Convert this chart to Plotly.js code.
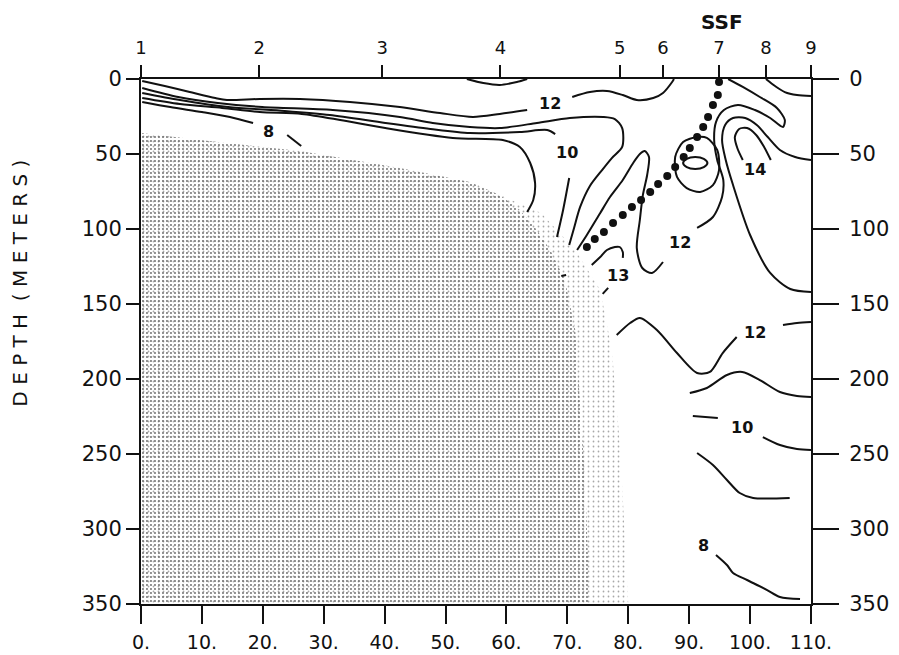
<!DOCTYPE html>
<html>
<head>
<meta charset="utf-8">
<script src="https://cdn.plot.ly/plotly-3.0.1.min.js"></script>
<style>html,body{margin:0;padding:0;background:#fff;}#chart{width:899px;height:655px;}</style>
</head>
<body>
<div id="chart"></div>
<script>
// ---- axes ----
const bottomTickVals = [0,10,20,30,40,50,60,70,80,90,100,110];
const bottomTickText = ["0.","10.","20.","30.","40.","50.","60.","70.","80.","90.","100.","110."];
const stationX = [0,19.4,39.6,59.0,78.6,85.7,94.9,102.6,110];
const stationLabels = ["1","2","3","4","5","6","7","8","9"];
const depthTicks = [0,50,100,150,200,250,300,350];

// ---- stippled bottom region ----
const shoalDenseX = [0,9.7,26.1,42.5,54.0,58.9,62.2,65.0,67.2,69.6,71.3,72.1,72.9,73.7,0];
const shoalDenseY = [36,40.7,48,59.3,68.7,77.3,87.3,100.7,114,134,167.3,214,267.3,350,350];
const shoalFadeX = [0,9.7,26.1,42.5,54.0,58.9,65.7,71.3,75.4,77.3,78.7,80.0,0];
const shoalFadeY = [36,40.7,48,59.3,68.7,77.3,89.3,114,140.7,180.7,247.3,350,350];

// ---- isotherms ----
const iso1aX = [0.2,3.9,8.0,12.2,14.1,19.5,26.1,34.3,42.5,49.1,54.5,58.9,63.4];
const iso1aY = [1.3,4.7,8.7,12.7,14,13.3,13.3,15.3,18.7,22.7,25.3,23.3,20.7];
const iso1bX = [70.8,73.7,76.5,79.1,81.4,84.1,85.7,87.2,87.5];
const iso1bY = [12,8.7,8,10.7,14,12.7,9.3,2,0];
const iso2X = [0.2,6.1,12.6,19.9,31.5,42.5,47.9,54.0,58.9,65.0,70.4,75.9,77.8,79.0,79.0,77.3,75.7,73.7,72.1,71.1,70.3];
const iso2Y = [6,12,16,18.7,20.7,25.3,29.3,32,32.7,29.3,26,25.3,26.7,32.7,45.3,52.7,60.7,71.3,85.3,99.3,110.7];
const iso3X = [0.2,6.4,14.3,23.6,31.0,40.1,47.5,54.0,62.2,66.7,68.0];
const iso3Y = [9.3,14,18.7,21.3,24,29.3,33.3,36,35.3,34,36.7];
const iso4X = [0.2,6.4,13.3,19.5,26.4,32.7,40.1,51.2,59.4,62.2,63.9,64.7,64.4,63.4];
const iso4Y = [12.7,16.7,19.3,22,23.3,27.3,32.7,39.3,40.7,45.3,56,69.3,80.7,88.7];
const iso5X = [0.2,4.8,10,14.6,18.4];
const iso5Y = [15.3,18.7,22,25.3,29.3];
const iso5bX = [24.0,26.3];
const iso5bY = [37.3,44.7];
const iso10segX = [70.3,69.3,68.3];
const iso10segY = [66,87.3,105.3];
const lensX = [53.5,56.2,58.9,61.7,63.4];
const lensY = [0,2.7,4,2,0];
const uLoopX = [71.6,73.2,75.4,77.0,79.1,80.8,81.9,82.7,83.4,83.1,82.4,81.9,81.4,82.3,83.9,85.7];
const uLoopY = [114,104,89.3,78.7,67.3,56,50,48,52,64,77.3,94,112.7,126,129.3,122];
const tongueX = [91.3,93.9,95.4,95.6,94.6,94.1,94.4,95.7,98.0,100.8,103.3,105.4,105.7,104.4,101.6,98.8,96.4];
const tongueY = [99.3,92,78.7,67.3,54,40.7,28.7,20.7,17.3,20.7,26,32,27.3,19.3,12,5.3,0];
const domeX = [110,106.6,103.3,100,97.2,96,95.4,95.9,97.2,99.2,101.1,102.9,104.9,107.4,110];
const domeY = [142,140,129.3,104,70.7,54,40.7,30.7,26,26,30.7,38.7,47.3,52,54];
const iso14X = [98.8,97.9,97.5,98.2,99.5,101,102.3,103.4];
const iso14Y = [54,46,38.7,33.3,32.7,37.3,45.3,54];
const st8X = [102.6,104.1,105.7,107.7,110];
const st8Y = [0,4.7,8.7,10.7,11.3];
const ringX = [91.3,89,87.7,88,89.6,91.8,93.9,94.9,94.6,92.9,91.3];
const ringY = [38.7,42,52,65.3,72.7,75.3,70.7,60.7,47.3,39.3,38.7];
const coreX = [89,89.6,91,92.4,93,92.4,91,89.6,89];
const coreY = [56,53.2,52,53.2,56,58.8,60,58.8,56];
const hook13X = [74.0,75.4,76.5,77.8,78.6,79.1,79.1];
const hook13Y = [124,118.7,114,112,112,115.3,119.3];
const bit13X = [75.8,76.7];
const bit13Y = [143.3,139.3];
const dashX = [69.0,69.8];
const dashY = [131.3,130.7];
const low12aX = [78.1,80.3,81.9,84.7,88.0,91.3,93.4,95.5,97.8];
const low12aY = [170.7,162.7,159.3,167.3,182.7,196,195.3,182.7,172];
const low12bX = [105.4,107.7,110];
const low12bY = [164,162.7,162];
const lowAX = [90.1,92.9,96.2,98.7,101.6,104.9,107.7,110];
const lowAY = [209.3,206,197.3,195.3,200.7,208.7,211.3,212];
const low10aX = [90.6,94.7];
const low10aY = [224.7,226];
const low10bX = [102.1,104.9,107.7,110];
const low10bY = [238.7,244,246.7,247.3];
const lowBX = [91.3,93.9,96.2,98.3,100.5,106.5];
const lowBY = [249.3,257.3,267.3,276,279.3,279.3];
const low8X = [94.4,96.2,97.2,99.5,102.8,104.9,108.2];
const low8Y = [317.3,324,329.3,334,340.7,345.3,346.7];

// ---- front (dotted) ----
const frontX = [94.9,94.7,93.9,93.1,92.3,91.3,90.1,89.1,87.7,86.4,84.9,83.6,82.1,80.6,79.1,77.5,76.0,74.5,73.2];
const frontY = [2,10.7,17.3,25.3,32,38.7,46,52,58.7,64.7,70,75.3,80.7,85.3,90.7,96,102,106.7,112];

// ---- contour labels ----
const labelText = ["12","10","8","12","13","14","12","10","8"];
const labelX = [67.2,70.0,20.9,88.5,78.3,100.8,100.8,98.7,92.4];
const labelY = [16,48.7,35.3,109.3,130.7,60,168.7,232,311.3];

const INK = '#111';
const traces = [];
traces.push({x:shoalFadeX,y:shoalFadeY,type:'scatter',mode:'lines',fill:'toself',line:{width:0,color:'rgba(0,0,0,0)'},
  fillcolor:'rgba(255,255,255,0)',fillpattern:{shape:'.',size:5,solidity:0.1,fgcolor:'#a8a8a8',bgcolor:'rgba(255,255,255,0)'},hoverinfo:'skip'});
traces.push({x:shoalDenseX,y:shoalDenseY,type:'scatter',mode:'lines',fill:'toself',line:{width:0,color:'rgba(0,0,0,0)'},
  fillcolor:'rgba(255,255,255,0)',fillpattern:{shape:'.',size:4,solidity:0.18,fgcolor:'#6a6a6a',bgcolor:'rgba(255,255,255,0)'},hoverinfo:'skip'});

const lines = [[iso1aX,iso1aY],[iso1bX,iso1bY],[iso2X,iso2Y],[iso3X,iso3Y],[iso4X,iso4Y],[iso5X,iso5Y],[iso5bX,iso5bY],
  [iso10segX,iso10segY],[lensX,lensY],[uLoopX,uLoopY],[tongueX,tongueY],[domeX,domeY],[iso14X,iso14Y],[st8X,st8Y],
  [ringX,ringY],[coreX,coreY],[hook13X,hook13Y],[bit13X,bit13Y],[dashX,dashY],[low12aX,low12aY],[low12bX,low12bY],
  [lowAX,lowAY],[low10aX,low10aY],[low10bX,low10bY],[lowBX,lowBY],[low8X,low8Y]];
lines.forEach(([lx,ly]) => traces.push({x:lx,y:ly,type:'scatter',mode:'lines',
  line:{color:INK,width:2,shape:'spline',smoothing:0.8},hoverinfo:'skip'}));

traces.push({x:frontX,y:frontY,type:'scatter',mode:'markers',marker:{color:INK,size:8},hoverinfo:'skip'});
// invisible trace to activate top/right axes
traces.push({x:[0,110],y:[0,350],xaxis:'x2',yaxis:'y2',type:'scatter',mode:'markers',marker:{opacity:0},hoverinfo:'skip'});

const annotations = labelText.map((t,i)=>({x:labelX[i],y:labelY[i],xref:'x',yref:'y',text:t,showarrow:false,
  font:{family:'DejaVu Sans',size:16,color:INK,weight:'bold'}}));
annotations.push({x:95.4,y:1.109,xref:'x',yref:'paper',xanchor:'center',yanchor:'middle',text:'SSF',showarrow:false,
  font:{family:'DejaVu Sans',size:20,color:INK,weight:'bold'}});
annotations.push({x:-0.18,y:0.611,xref:'paper',yref:'paper',xanchor:'center',yanchor:'middle',text:'D E P T H  ( M E T E R S )',textangle:-90,showarrow:false,
  font:{family:'DejaVu Sans',size:20,color:INK}});

const axCommon = {showgrid:false,zeroline:false,showline:true,linewidth:2,linecolor:INK,ticks:'outside',tickwidth:2,tickcolor:INK};
const layout = {
  width:899,height:655,margin:{l:141,r:88,t:79,b:51},
  paper_bgcolor:'white',plot_bgcolor:'white',showlegend:false,hovermode:false,
  font:{family:'DejaVu Sans',color:INK},
  xaxis:Object.assign({},axCommon,{range:[0,110],tickmode:'array',tickvals:bottomTickVals,ticktext:bottomTickText,
    ticklen:18,tickfont:{size:19,color:INK},ticklabelstandoff:2}),
  xaxis2:Object.assign({},axCommon,{overlaying:'x',side:'top',range:[0,110],tickmode:'array',tickvals:stationX,
    ticktext:stationLabels,ticklen:12,tickfont:{size:18,color:INK},ticklabelstandoff:4}),
  yaxis:Object.assign({},axCommon,{range:[350,0],tickmode:'array',tickvals:depthTicks,ticklen:13,
    tickfont:{size:21,color:INK},ticksuffix:'\u00a0'}),
  yaxis2:Object.assign({},axCommon,{overlaying:'y',side:'right',range:[350,0],tickmode:'array',tickvals:depthTicks,
    ticklen:26,tickfont:{size:21,color:INK},ticklabelstandoff:6}),
  annotations:annotations
};
Plotly.newPlot('chart',traces,layout,{displayModeBar:false,staticPlot:true});
</script>
</body>
</html>
